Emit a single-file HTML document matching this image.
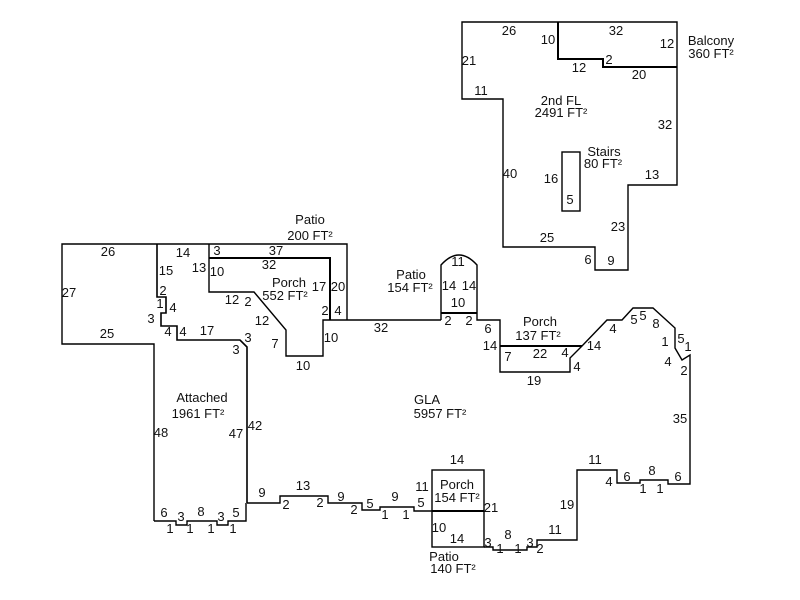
<!DOCTYPE html>
<html><head><meta charset="utf-8"><style>
html,body{margin:0;padding:0;background:#fff;width:800px;height:600px;overflow:hidden}
svg text{font-family:"Liberation Sans",Arial,sans-serif;font-size:13px;fill:#111;text-anchor:middle}
</style></head><body>
<svg width="800" height="600" viewBox="0 0 800 600" xmlns="http://www.w3.org/2000/svg">
<g fill="none" stroke="#000" stroke-width="1.4">
<path d="M462,22 L677,22 L677,185 L628,185 L628,270 L595,270 L595,247 L503,247 L503,99 L462,99 Z"/>
<path d="M558,22 L558,59 L603,59 L603,67 L677,67" stroke-width="2"/>
<rect x="562" y="152" width="18" height="59"/>
<path d="M154,521 L154,344 L62,344 L62,244 L347,244 L347,320"/>
<path d="M157,244 L157,297 L166,297 L166,313 L161,313 L161,326 L177,326 L177,340 L240,340 L247,347 L247,503" stroke-width="1.6"/>
<path d="M154,521 L176,521 L176,525 L187,525 L187,521 L217,521 L217,525 L228,525 L228,521 L246,521 L246,503"/>
<path d="M209,244 L209,292 L254,292 L286,330 L286,356 L323,356 L323,320 L441,320"/>
<path d="M209,258 L330,258 L330,320" stroke-width="2"/>
<path d="M441,320 L441,265 Q459,245 477,265 L477,320 L500,320 L500,372 L570,372 L570,358 L582,346 L607,320 L622,320 L633,308 L653,308 L675,328 L675,348 L682,360 L690,355 L690,484 L668,484 L668,480 L640,480 L640,483 L617,483 L617,470 L577,470 L577,540 L537,540 L537,547 L527,547 L527,550 L493,550 L493,547 L484,547"/>
<path d="M441,313 L477,313" stroke-width="2"/>
<path d="M500,346 L582,346" stroke-width="2"/>
<path d="M247,503 L280,503 L280,496 L328,496 L328,503 L362,503 L362,510 L380,510 L380,507 L414,507 L414,511 L432,511"/>
<rect x="432" y="470" width="52" height="77"/>
<path d="M432,511 L484,511" stroke-width="2"/>
</g>
<g>
<text x="509" y="35">26</text><text x="548" y="44">10</text><text x="616" y="35">32</text><text x="667" y="48">12</text>
<text x="711" y="45">Balcony</text><text x="711" y="58">360 FT²</text>
<text x="469" y="65">21</text><text x="579" y="72">12</text><text x="609" y="64">2</text><text x="639" y="79">20</text>
<text x="481" y="95">11</text><text x="561" y="105">2nd FL</text><text x="561" y="117">2491 FT²</text>
<text x="665" y="129">32</text><text x="604" y="156">Stairs</text><text x="603" y="168">80 FT²</text>
<text x="551" y="183">16</text><text x="652" y="179">13</text><text x="510" y="178">40</text><text x="570" y="204">5</text>
<text x="618" y="231">23</text><text x="547" y="242">25</text><text x="588" y="264">6</text><text x="611" y="265">9</text>
<text x="310" y="224">Patio</text><text x="310" y="240">200 FT²</text>
<text x="108" y="256">26</text><text x="183" y="257">14</text><text x="217" y="255">3</text><text x="276" y="255">37</text>
<text x="269" y="269">32</text><text x="166" y="275">15</text><text x="199" y="272">13</text><text x="217" y="276">10</text>
<text x="289" y="287">Porch</text><text x="285" y="300">552 FT²</text><text x="319" y="291">17</text><text x="338" y="291">20</text>
<text x="69" y="297">27</text><text x="163" y="295">2</text><text x="232" y="304">12</text><text x="248" y="306">2</text>
<text x="160" y="308">1</text><text x="173" y="312">4</text><text x="151" y="323">3</text><text x="262" y="325">12</text>
<text x="325" y="315">2</text><text x="338" y="315">4</text><text x="168" y="336">4</text><text x="183" y="336">4</text>
<text x="207" y="335">17</text><text x="107" y="338">25</text><text x="248" y="342">3</text><text x="236" y="354">3</text>
<text x="275" y="348">7</text><text x="331" y="342">10</text><text x="303" y="370">10</text><text x="381" y="332">32</text>
<text x="411" y="279">Patio</text><text x="410" y="292">154 FT²</text><text x="458" y="266">11</text>
<text x="449" y="290">14</text><text x="469" y="290">14</text><text x="458" y="307">10</text>
<text x="448" y="325">2</text><text x="469" y="325">2</text><text x="488" y="333">6</text><text x="490" y="350">14</text>
<text x="540" y="326">Porch</text><text x="538" y="340">137 FT²</text><text x="508" y="361">7</text><text x="540" y="358">22</text>
<text x="565" y="357">4</text><text x="534" y="385">19</text><text x="577" y="371">4</text><text x="594" y="350">14</text>
<text x="613" y="333">4</text><text x="634" y="324">5</text><text x="643" y="320">5</text><text x="656" y="328">8</text>
<text x="665" y="346">1</text><text x="681" y="343">5</text><text x="688" y="351">1</text><text x="668" y="366">4</text>
<text x="684" y="375">2</text><text x="680" y="423">35</text>
<text x="427" y="404">GLA</text><text x="440" y="418">5957 FT²</text>
<text x="202" y="402">Attached</text><text x="198" y="418">1961 FT²</text>
<text x="161" y="437">48</text><text x="236" y="438">47</text><text x="255" y="430">42</text>
<text x="262" y="497">9</text><text x="303" y="490">13</text><text x="286" y="509">2</text><text x="320" y="507">2</text>
<text x="341" y="501">9</text><text x="354" y="514">2</text><text x="370" y="508">5</text><text x="395" y="501">9</text>
<text x="385" y="519">1</text><text x="406" y="519">1</text><text x="421" y="507">5</text><text x="422" y="491">11</text>
<text x="457" y="464">14</text><text x="457" y="489">Porch</text><text x="457" y="502">154 FT²</text>
<text x="491" y="512">21</text><text x="439" y="532">10</text><text x="457" y="543">14</text>
<text x="444" y="561">Patio</text><text x="453" y="573">140 FT²</text>
<text x="488" y="547">3</text><text x="508" y="539">8</text><text x="500" y="553">1</text><text x="518" y="553">1</text>
<text x="530" y="547">3</text><text x="540" y="553">2</text><text x="555" y="534">11</text><text x="567" y="509">19</text>
<text x="595" y="464">11</text><text x="609" y="486">4</text><text x="627" y="481">6</text><text x="652" y="475">8</text>
<text x="643" y="493">1</text><text x="660" y="493">1</text><text x="678" y="481">6</text>
<text x="164" y="517">6</text><text x="181" y="521">3</text><text x="201" y="516">8</text><text x="221" y="521">3</text>
<text x="236" y="517">5</text><text x="170" y="533">1</text><text x="190" y="533">1</text><text x="211" y="533">1</text><text x="233" y="533">1</text>
</g>
</svg>
</body></html>
